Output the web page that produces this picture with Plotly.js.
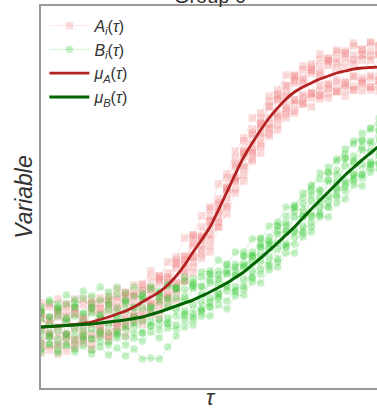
<!DOCTYPE html>
<html>
<head>
<meta charset="utf-8">
<script src="https://cdn.plot.ly/plotly-3.0.1.min.js"></script>
<style>
html,body{margin:0;padding:0;overflow:hidden;background:#fff;}
#chart{width:390px;height:410px;}
</style>
</head>
<body>
<div id="chart"></div>
<script>
// time grid (tau, 0..1)
const tau = [0,0.025,0.05,0.075,0.1,0.125,0.15,0.175,0.2,0.225,0.25,0.275,0.3,0.325,0.35,0.375,0.4,0.425,0.45,0.475,0.5,0.525,0.55,0.575,0.6,0.625,0.65,0.675,0.7,0.725,0.75,0.775,0.8,0.825,0.85,0.875,0.9,0.925,0.95,0.975,1];

// mean curves
const muA = [61,61.5,62,62.7,63.5,64.7,66,68.5,71,74,77,81,86,91,96,103,112,123,136,148,161,178,196,214,231,245,258,270,280,289,296,301,305,309,312,315,317,319,320,320.5,321];
const muB = [61,61.5,62,62.5,63,63.5,64,65,66,67,68,69.5,71,73.5,76,79,82,85,88,92,96,100.5,105,110.5,116,123,130,137.5,145,153,161,170,179,187.5,196,204.5,213,220.5,228,235,242];

// individual series A_i
const A1 = [74,68,78,71,79,69,84,80,76,91,84,95,89,110,108,109,128,131,151,152,179,189,201,230,238,259,262,287,292,295,311,308,321,314,330,326,321,333,328,337,334];
const A2 = [44,53,42,53,48,60,50,61,52,65,63,75,69,83,78,93,96,116,121,142,142,169,182,207,213,235,242,264,263,280,277,293,290,303,295,305,299,312,305,312,307];
const A3 = [75,55,79,54,75,53,85,62,86,66,95,71,98,84,112,92,125,115,153,138,172,166,210,207,247,236,270,259,294,283,313,291,318,297,327,308,335,311,334,310,333];
const A4 = [41,38,44,37,43,48,44,54,52,62,61,72,73,85,86,100,105,123,132,151,160,183,198,222,235,255,264,282,289,303,307,318,318,328,327,336,334,342,339,346,343];
const A5 = [85,81,89,84,89,83,89,85,92,88,96,93,103,101,110,111,124,128,145,150,167,177,199,210,231,238,255,260,274,277,288,286,295,292,300,296,303,298,304,298,303];
const A6 = [47,70,52,76,48,71,54,79,56,81,68,92,72,99,85,115,99,132,126,161,149,185,181,224,220,253,244,281,271,302,284,310,295,321,304,329,306,328,307,332,312];
const A7 = [69,64,71,67,74,68,77,74,83,80,90,85,97,94,105,105,120,124,143,148,167,176,200,211,236,244,265,270,288,291,305,304,315,313,323,320,329,325,333,328,335];
const A8 = [58,52,61,51,60,52,64,58,66,60,74,69,80,76,92,90,105,107,131,134,153,161,190,199,222,227,251,254,270,270,288,284,294,289,303,297,305,298,310,301,308];
const A9 = [76,84,75,82,80,89,80,90,88,99,92,103,104,117,112,126,131,150,153,172,181,204,214,237,250,270,275,292,298,313,312,322,324,334,329,338,337,345,338,345,342];
const A10 = [35,43,34,46,40,45,39,53,48,56,52,66,64,74,70,84,88,107,115,130,136,161,174,195,207,229,235,252,258,274,275,284,281,293,290,297,292,302,297,301,297];

// individual series B_i
const B1 = [77,71,81,70,81,74,85,73,83,73,88,81,89,81,95,88,99,91,109,102,114,109,124,118,132,132,150,144,162,163,180,177,197,197,216,213,230,227,247,245,258];
const B2 = [45,55,43,54,46,58,49,57,46,57,51,65,55,67,58,70,63,77,71,86,81,94,87,101,99,117,114,131,126,144,144,162,161,181,181,199,197,214,210,226,225];
const B3 = [75,51,80,54,85,51,80,55,91,53,87,62,92,62,91,64,99,74,102,79,114,91,118,97,132,111,144,122,157,142,176,157,193,173,208,193,229,207,241,223,257];
const B4 = [39,44,37,43,36,42,34,41,33,40,32,39,29,30,29,41,52,61,69,78,86,95,103,112,121,131,141,151,162,172,183,190,203,209,221,227,239,244,255,259,270];
const B5 = [81,88,84,93,88,97,92,101,96,101,95,101,95,102,97,104,100,107,103,111,108,117,114,124,122,133,133,145,145,157,158,171,173,186,187,200,201,213,213,224,224];
const B6 = [53,71,49,69,53,75,49,73,55,80,59,80,55,81,64,90,72,99,75,101,81,113,97,121,102,136,119,147,129,165,151,184,166,198,181,218,204,232,214,247,232];
const B7 = [69,63,72,66,72,66,75,69,78,70,78,71,80,78,87,81,90,88,100,93,105,105,115,113,124,126,141,139,154,157,171,172,187,191,207,206,222,225,238,237,250];
const B8 = [59,51,58,50,60,52,59,51,64,54,62,55,67,62,69,65,79,72,83,76,90,89,101,96,109,110,127,124,139,141,156,155,172,175,192,191,207,209,223,220,235];
const B9 = [78,86,77,84,81,90,80,88,85,94,85,92,91,99,94,102,101,111,105,116,117,128,123,136,136,149,149,162,166,181,181,195,201,215,215,229,234,247,248,260,264];
const B10 = [36,44,35,43,39,48,38,46,43,50,43,50,47,56,50,60,59,68,63,72,72,83,79,92,93,106,105,118,121,135,135,151,156,171,171,185,189,203,202,216,219];

const seriesA = [A1, A2, A3, A4, A5, A6, A7, A8, A9, A10];
const seriesB = [B1, B2, B3, B4, B5, B6, B7, B8, B9, B10];

const labelA = '<i>A<sub>i</sub></i>(<i>τ</i>)';
const labelB = '<i>B<sub>i</sub></i>(<i>τ</i>)';
const labelMuA = '<i>μ<sub>A</sub></i>(<i>τ</i>)';
const labelMuB = '<i>μ<sub>B</sub></i>(<i>τ</i>)';

const traces = [];
seriesA.forEach((ys, k) => {
  traces.push({
    x: tau, y: ys, type: 'scatter', mode: 'lines+markers',
    name: labelA, legendgroup: 'A', showlegend: k === 0,
    line: {color: 'rgba(240,130,130,0.2)', width: 1},
    marker: {symbol: 'square', size: 7.5, color: 'rgba(240,128,128,0.28)', line: {width: 0}}
  });
});
seriesB.forEach((ys, k) => {
  traces.push({
    x: tau, y: ys, type: 'scatter', mode: 'lines+markers',
    name: labelB, legendgroup: 'B', showlegend: k === 0,
    line: {color: 'rgba(50,200,50,0.2)', width: 1},
    marker: {symbol: 'circle', size: 7.5, color: 'rgba(50,200,50,0.28)', line: {width: 0}}
  });
});
traces.push({x: tau, y: muA, type: 'scatter', mode: 'lines', name: labelMuA,
  line: {color: '#b22222', width: 2.8, shape: 'spline'}});
traces.push({x: tau, y: muB, type: 'scatter', mode: 'lines', name: labelMuB,
  line: {color: '#006400', width: 3, shape: 'spline'}});

const layout = {
  width: 390, height: 410,
  margin: {l: 41, r: 11, t: 6, b: 22},
  paper_bgcolor: '#fff', plot_bgcolor: '#fff',
  font: {family: 'Liberation Sans, Arial, sans-serif', color: '#333'},
  title: {text: 'Group 0', font: {size: 20, color: '#333'}, x: 0.5, xref: 'paper',
          y: 0.993, yref: 'container', yanchor: 'bottom'},
  showlegend: true,
  legend: {x: 0.01, y: 0.993, xanchor: 'left', yanchor: 'top', bgcolor: 'rgba(255,255,255,0.8)',
           borderwidth: 0, itemwidth: 40, font: {size: 16, color: '#333'}, tracegroupgap: 0},
  xaxis: {range: [0, 1], showline: true, mirror: true, linecolor: '#999', linewidth: 2,
          showgrid: false, zeroline: false, showticklabels: false, ticks: '',
          title: {text: '<i>τ</i>', font: {size: 22, color: '#333'}, standoff: 2}},
  yaxis: {range: [0, 382], showline: true, mirror: true, linecolor: '#999', linewidth: 2,
          showgrid: false, zeroline: false, showticklabels: false, ticks: '',
          title: {text: '<i>Variable</i>', font: {size: 23, color: '#333'}, standoff: 0}}
};

Plotly.newPlot('chart', traces, layout, {displayModeBar: false, staticPlot: true});
</script>
</body>
</html>
